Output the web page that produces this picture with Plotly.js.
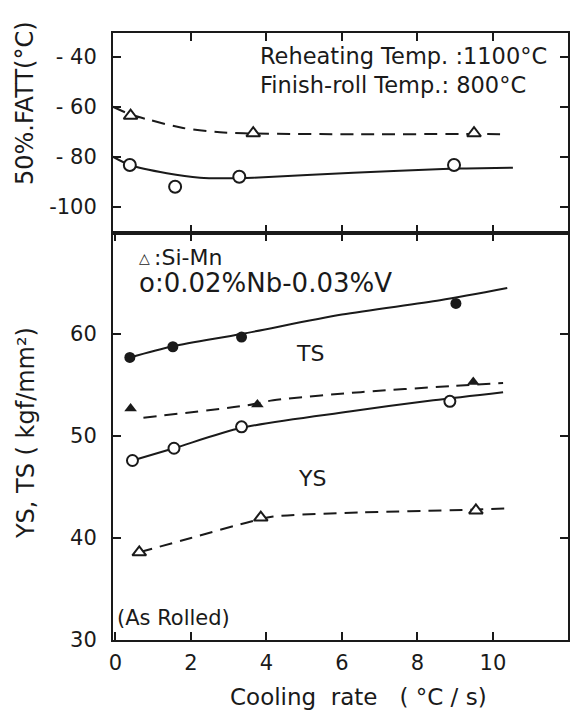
<!DOCTYPE html>
<html>
<head>
<meta charset="utf-8">
<script src="https://cdn.plot.ly/plotly-3.0.1.min.js"></script>
<style>html,body{margin:0;padding:0;background:#fff;}#chart{width:573px;height:713px;}</style>
</head>
<body>
<div id="chart"></div>
<script>
// ---- axis ticks ----
const xTicks = [0, 2, 4, 6, 8, 10];
const xTicksTop = [2, 4, 6, 8, 10];
const fattTicks = [-40, -60, -80, -100];
const fattTickText = ['- 40', '- 60', '- 80', '-100'];
const strengthTicks = [30, 40, 50, 60];

// ---- 50% FATT (top panel) ----
const rateFattSiMn = [0.40, 3.65, 9.5];
const fattSiMn = [-63.5, -70.5, -70.5];
const rateFattNbV = [0.38, 1.58, 3.28, 8.97];
const fattNbV = [-83.2, -91.9, -87.9, -83.2];
// hand-drawn trend curves
const curveRateFattSiMn = [-0.07, 0.40, 0.91, 1.79, 2.77, 3.65, 6.5, 9.5, 10.32];
const curveFattSiMn = [-59.9, -63.0, -65.2, -68.4, -70.1, -70.6, -70.9, -70.8, -70.9];
const curveRateFattNbV = [-0.07, 0.38, 1.36, 2.24, 2.95, 3.65, 6.3, 8.68, 9.3, 10.53];
const curveFattNbV = [-79.9, -83.2, -86.5, -88.3, -88.5, -88.3, -86.3, -84.8, -84.6, -84.3];

// ---- TS (bottom panel) ----
const rateTsNbV = [0.38, 1.52, 3.34, 9.02];
const tsNbV = [57.7, 58.75, 59.7, 63.0];
const rateTsSiMn = [0.40, 3.76, 9.48];
const tsSiMn = [52.7, 53.1, 55.3];
const curveRateTsNbV = [0.38, 1.52, 3.34, 6.0, 8.6, 10.38];
const curveTsNbV = [57.7, 58.8, 60.0, 61.9, 63.3, 64.5];
const curveRateTsSiMn = [0.74, 3.47, 4.18, 6.5, 8.94, 10.27];
const curveTsSiMn = [51.8, 53.0, 53.5, 54.3, 54.9, 55.2];

// ---- YS (bottom panel) ----
const rateYsNbV = [0.45, 1.55, 3.34, 8.86];
const ysNbV = [47.6, 48.8, 50.9, 53.4];
const rateYsSiMn = [0.63, 3.85, 9.55];
const ysSiMn = [38.6, 42.0, 42.7];
const curveRateYsNbV = [0.45, 1.55, 3.34, 6.2, 8.42, 10.27];
const curveYsNbV = [47.6, 48.8, 50.8, 52.4, 53.5, 54.3];
const curveRateYsSiMn = [0.63, 2.0, 3.47, 4.18, 6.5, 9.2, 10.38];
const curveYsSiMn = [38.6, 40.0, 41.5, 42.1, 42.5, 42.75, 42.9];

const INK = '#1a1a1a';
const FONT = 'DejaVu Sans, sans-serif';
const dashed = '13px,8px';

function curve(x, y, xa, ya, dash) {
  return {x: x, y: y, xaxis: xa, yaxis: ya, mode: 'lines', hoverinfo: 'skip',
    line: {color: INK, width: 2, dash: dash, shape: 'spline', smoothing: 0.8}, showlegend: false};
}
function pts(x, y, xa, ya, symbol, size, filled) {
  return {x: x, y: y, xaxis: xa, yaxis: ya, mode: 'markers', showlegend: false,
    marker: {symbol: symbol, size: size, color: filled ? INK : '#ffffff',
      line: {color: INK, width: filled ? 0 : 2}}};
}

const data = [
  curve(curveRateFattSiMn, curveFattSiMn, 'x2', 'y2', dashed),
  curve(curveRateFattNbV, curveFattNbV, 'x2', 'y2', 'solid'),
  pts(rateFattSiMn, fattSiMn, 'x2', 'y2', 'triangle-up', 12, false),
  pts(rateFattNbV, fattNbV, 'x2', 'y2', 'circle', 12, false),

  curve(curveRateTsNbV, curveTsNbV, 'x', 'y', 'solid'),
  curve(curveRateTsSiMn, curveTsSiMn, 'x', 'y', dashed),
  curve(curveRateYsNbV, curveYsNbV, 'x', 'y', 'solid'),
  curve(curveRateYsSiMn, curveYsSiMn, 'x', 'y', dashed),
  pts(rateTsNbV, tsNbV, 'x', 'y', 'circle', 11, true),
  pts(rateTsSiMn, tsSiMn, 'x', 'y', 'triangle-up', 11, true),
  pts(rateYsNbV, ysNbV, 'x', 'y', 'circle', 11, false),
  pts(rateYsSiMn, ysSiMn, 'x', 'y', 'triangle-up', 12, false)
];

const axisCommon = {
  showline: true, linecolor: INK, linewidth: 2, mirror: 'ticks',
  ticks: 'inside', ticklen: 8, tickwidth: 2, tickcolor: INK,
  showgrid: false, zeroline: false,
  tickfont: {family: FONT, size: 21, color: INK}
};

const xRange = [-0.066, 11.99];
const split = 0.6705;

const layout = {
  width: 573, height: 713,
  margin: {l: 113, r: 5, t: 33, b: 73, pad: 0},
  paper_bgcolor: '#ffffff', plot_bgcolor: '#ffffff',
  font: {family: FONT, color: INK},
  showlegend: false,
  xaxis: Object.assign({}, axisCommon, {domain: [0, 1], anchor: 'y', range: xRange,
    tickmode: 'array', tickvals: xTicks, ticklabelstandoff: 3}),
  xaxis2: Object.assign({}, axisCommon, {domain: [0, 1], anchor: 'y2', range: xRange,
    tickmode: 'array', tickvals: xTicksTop, showticklabels: false}),
  yaxis: Object.assign({}, axisCommon, {domain: [0, split], anchor: 'x', range: [30, 69.9],
    tickmode: 'array', tickvals: strengthTicks, ticklabelstandoff: 10}),
  yaxis2: Object.assign({}, axisCommon, {domain: [split, 1], anchor: 'x2', range: [-110.4, -30.4],
    tickmode: 'array', tickvals: fattTicks, ticktext: fattTickText, ticklabelstandoff: 10}),
  annotations: [
    {xref: 'x2', yref: 'y2', x: 3.77, y: -39.6, xanchor: 'left', yanchor: 'middle', showarrow: false,
      text: 'Reheating Temp. :1100°C', font: {family: FONT, size: 22.5, color: INK}},
    {xref: 'x2', yref: 'y2', x: 3.77, y: -51.2, xanchor: 'left', yanchor: 'middle', showarrow: false,
      text: 'Finish-roll Temp.: 800°C', font: {family: FONT, size: 22.5, color: INK}},
    {xref: 'x', yref: 'y', x: 0.57, y: 67.45, xanchor: 'left', yanchor: 'middle', showarrow: false,
      text: '△', font: {family: FONT, size: 14, color: INK}},
    {xref: 'x', yref: 'y', x: 0.98, y: 67.45, xanchor: 'left', yanchor: 'middle', showarrow: false,
      text: ':Si-Mn', font: {family: FONT, size: 22, color: INK}},
    {xref: 'x', yref: 'y', x: 0.57, y: 65.0, xanchor: 'left', yanchor: 'middle', showarrow: false,
      text: 'o:0.02%Nb-0.03%V', font: {family: FONT, size: 26, color: INK}},
    {xref: 'x', yref: 'y', x: 5.15, y: 58.1, xanchor: 'center', yanchor: 'middle', showarrow: false,
      text: 'TS', font: {family: FONT, size: 22, color: INK}},
    {xref: 'x', yref: 'y', x: 5.2, y: 45.85, xanchor: 'center', yanchor: 'middle', showarrow: false,
      text: 'YS', font: {family: FONT, size: 22, color: INK}},
    {xref: 'x', yref: 'y', x: -0.01, y: 32.15, xanchor: 'left', yanchor: 'middle', showarrow: false,
      text: '(As Rolled)', font: {family: FONT, size: 21, color: INK}},
    // axis titles
    {xref: 'paper', yref: 'paper', x: -0.1934, y: 0.8847, xanchor: 'center', yanchor: 'middle', showarrow: false,
      textangle: -90, text: '50%.FATT(°C)', font: {family: FONT, size: 24, color: INK}},
    {xref: 'paper', yref: 'paper', x: -0.191, y: 0.341, xanchor: 'center', yanchor: 'middle', showarrow: false,
      textangle: -90, text: 'YS, TS ( kgf/mm²)', font: {family: FONT, size: 24, color: INK}},
    {xref: 'paper', yref: 'paper', x: 0.5385, y: -0.0939, xanchor: 'center', yanchor: 'middle', showarrow: false,
      text: 'Cooling\u00a0\u00a0rate\u00a0\u00a0\u00a0(\u00a0°C\u00a0/\u00a0s)', font: {family: FONT, size: 23, color: INK}}
  ]
};

Plotly.newPlot('chart', data, layout, {staticPlot: true, displayModeBar: false});
</script>
</body>
</html>
